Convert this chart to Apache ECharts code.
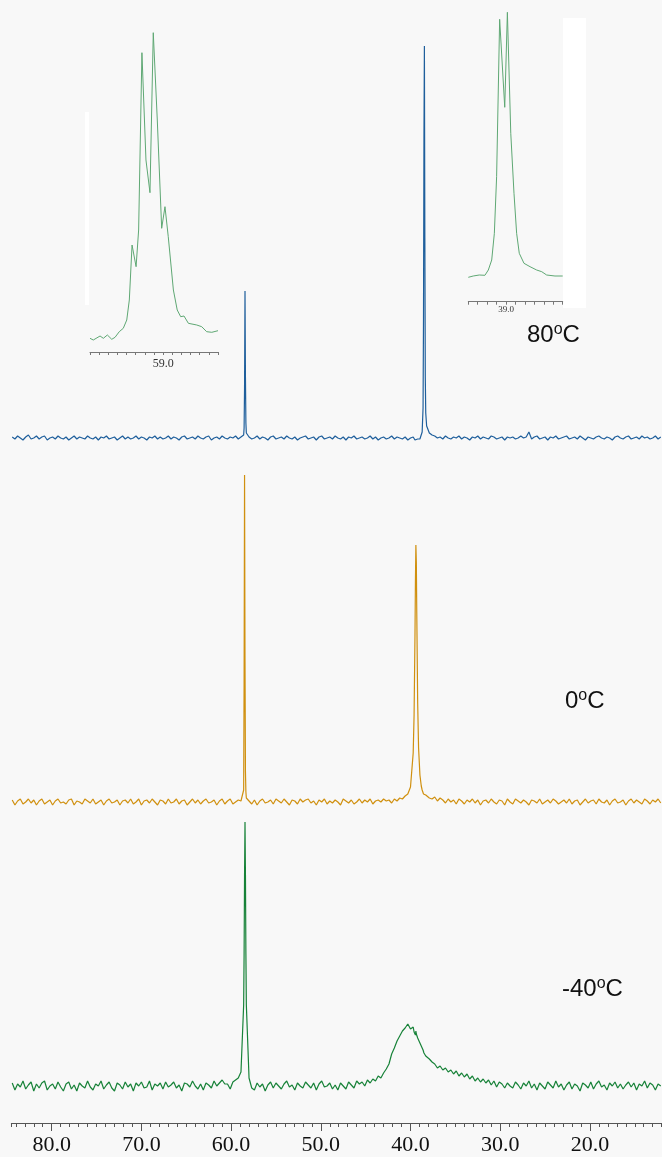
<!DOCTYPE html>
<html>
<head>
<meta charset="utf-8">
<script src="https://cdn.jsdelivr.net/npm/echarts@6/dist/echarts.min.js"></script>
<style>
html,body{margin:0;padding:0;background:#f8f8f8;}
#chart{width:662px;height:1157px;}
</style>
</head>
<body>
<div id="chart"></div>
<script>
// chemical shift grid (ppm), shared by the three traces
const ppm = [
84.4,84.1,83.8,83.5,83.2,82.9,82.6,82.3,82.0,81.7,
81.4,81.1,80.8,80.5,80.2,79.9,79.6,79.3,79.0,78.7,
78.4,78.1,77.8,77.5,77.2,76.9,76.6,76.3,76.0,75.7,
75.4,75.1,74.8,74.5,74.2,73.9,73.6,73.3,73.0,72.7,
72.4,72.1,71.8,71.5,71.2,70.9,70.6,70.3,70.0,69.7,
69.4,69.1,68.8,68.5,68.2,67.9,67.6,67.3,67.0,66.7,
66.4,66.1,65.8,65.5,65.2,64.9,64.6,64.3,64.0,63.7,
63.4,63.1,62.8,62.5,62.2,61.9,61.6,61.3,61.0,60.7,
60.4,60.1,59.8,59.5,59.2,58.9,
58.6,58.55,58.5,58.45,58.4,58.35,58.3,58.0,57.7,
57.4,57.1,56.8,56.5,56.2,55.9,55.6,55.3,55.0,54.7,
54.4,54.1,53.8,53.5,53.2,52.9,52.6,52.3,52.0,51.7,
51.4,51.1,50.8,50.5,50.2,49.9,49.6,49.3,49.0,48.7,
48.4,48.1,47.8,47.5,47.2,46.9,46.6,46.3,46.0,45.7,
45.4,45.1,44.8,44.5,44.2,43.9,43.6,43.3,43.0,42.7,
42.4,42.1,41.8,41.5,41.2,40.9,40.6,40.3,40.0,39.7,
39.6,39.5,39.45,39.4,39.35,39.3,39.2,39.1,38.95,38.8,
38.7,38.6,38.55,38.5,38.45,38.4,38.35,38.3,38.2,37.9,
37.6,37.3,37.0,36.7,36.4,36.1,35.8,35.5,35.2,34.9,
34.6,34.3,34.0,33.7,33.4,33.1,32.8,32.5,32.2,31.9,
31.6,31.3,31.0,30.7,30.4,30.1,29.8,29.5,29.2,28.9,
28.6,28.3,28.0,27.7,27.4,27.1,26.8,26.5,26.2,25.9,
25.6,25.3,25.0,24.7,24.4,24.1,23.8,23.5,23.2,22.9,
22.6,22.3,22.0,21.7,21.4,21.1,20.8,20.5,20.2,19.9,
19.6,19.3,19.0,18.7,18.4,18.1,17.8,17.5,17.2,16.9,
16.6,16.3,16.0,15.7,15.4,15.1,14.8,14.5,14.2,13.9,
13.6,13.3,13.0,12.7,12.4,12.1
];

// 80 oC trace intensities
const blue80 = [
1,-1,2,0,-2,1,3,-1,0,2,
-1,1,2,-2,0,1,-1,2,0,-1,
1,-2,0,2,-1,1,0,-1,2,0,
-1,1,-2,1,0,2,-1,0,1,-2,
0,2,-1,1,-1,0,2,-1,1,0,
-2,1,0,2,-1,1,-1,0,2,-1,
1,0,-2,1,2,-1,0,1,-1,2,
0,-1,1,2,-2,0,1,-1,2,0,
-1,1,0,2,-1,1,
3,10,50,147,60,15,5,1,-1,
0,2,-1,1,0,-2,1,2,-1,0,
1,-1,2,0,-1,1,-2,0,1,2,
-1,0,1,-2,1,2,-1,0,1,-1,
2,0,-1,1,-2,1,0,2,-1,0,
1,-1,0,2,-1,1,-2,0,1,-1,
0,2,-1,1,0,-1,1,-2,0,1,
-1,-2,0,-1,-2,0,-1,-3,-1,0,
6,30,120,300,392,200,60,25,12,5,
3,2,0,1,-1,2,0,-1,1,0,
2,-1,1,0,-2,1,0,2,-1,1,
0,-1,2,1,-1,0,1,-2,1,0,
1,-1,0,2,0,1,6,-1,1,2,
-1,0,1,-2,1,0,2,-1,0,1,
2,-1,0,1,-1,2,0,-2,1,0,
-1,1,2,0,-1,1,0,-2,1,2,
0,-1,1,2,-1,0,1,-1,2,0,
1,-1,0,2,-1,1
];

// 0 oC trace intensities
const orange0 = [
2,-3,1,3,-2,0,3,-1,2,-3,
1,3,-2,0,2,-3,1,3,-1,0,
-2,2,3,-3,1,0,-2,3,1,-1,
3,-2,0,2,-3,1,3,-1,0,2,
-3,1,2,-1,3,-2,0,3,-3,1,
2,-1,3,0,-3,2,1,-2,3,-1,
0,3,-2,1,2,-3,0,3,-1,2,
-2,1,3,-1,0,2,-3,1,3,-2,
1,3,-2,0,2,1,
12,120,327,140,30,10,4,1,-2,
2,-3,1,3,-1,0,2,-2,3,1,
-1,3,0,-3,2,1,-2,3,0,2,
3,-1,1,-3,2,0,3,-2,1,-1,
2,0,-3,3,1,-1,2,-2,0,3,
-1,2,0,3,-2,1,2,0,3,1,
2,-1,3,1,4,3,6,8,15,49,
87,167,221,257,240,189,99,54,27,16,
12,10,8,9,7,8,6,7,5,4,
3,5,1,4,2,-1,3,0,2,-2,
3,1,-2,2,0,3,-1,2,-3,1,
2,-1,3,0,-2,2,1,-3,3,0,
-2,3,1,-1,2,0,-3,2,1,-1,
3,-2,0,2,-1,3,1,-2,0,2,
-1,3,-2,1,2,-3,0,3,-1,1,
2,-2,3,0,-1,2,-3,1,3,-1,
0,2,-3,1,3,-1,2,0,-2,3,
1,-2,2,0,3,-1
];

// -40 oC trace intensities
const green40 = [
3,-4,2,-1,5,-3,1,4,-5,2,
-2,3,5,-4,0,2,-3,4,-1,-5,
2,4,-3,1,-5,3,0,-2,5,-1,
-4,2,0,5,-3,1,4,-2,-5,3,
1,-3,4,-1,2,-5,3,0,4,-2,
-1,5,-4,2,0,3,-3,4,-1,1,
4,-2,1,-5,3,2,-1,5,0,-3,
2,-4,3,1,-2,5,0,3,6,2,
2,-3,4,6,8,14,
81,132,211,264,211,132,81,8,-2,
-4,3,-1,2,-5,1,4,-2,3,0,
-3,2,5,-1,1,-4,3,0,-2,4,
1,-2,3,-4,2,5,-1,0,3,-3,
1,-4,3,0,-3,4,1,-2,5,2,
4,0,6,3,7,5,10,8,13,17,
22,32,38,45,50,55,58,62,57,59,
54,56,51,55,52,53,48,46,43,40,
39,36,38,33,35,32,34,30,31,27,
24,22,18,20,16,18,14,16,12,15,
10,13,9,12,7,10,5,8,4,7,
3,6,1,5,-1,4,2,-2,3,0,
-2,4,1,-3,3,0,5,-2,2,-4,
3,0,-3,4,1,-2,5,-1,2,-4,
1,4,-3,2,0,-5,3,1,-2,4,
-3,2,5,-1,1,-4,3,0,4,-2,
2,-3,1,4,-1,3,-4,2,0,5,
-2,3,1,-4,2,0
];

// expanded inset around 59.0 ppm
const inset59Ppm = [59.40,59.382,59.345,59.327,59.305,59.281,59.263,59.240,59.218,59.199,59.185,59.170,59.148,59.134,59.116,59.094,59.072,59.054,59.032,59.008,58.990,58.972,58.944,58.923,58.904,58.886,58.862,58.816,58.789,58.762,58.734,58.70];
const inset59Val = [13.7,12,16,13.7,17,12.7,14.7,20.3,23.7,32,52,107,85.3,122,299.3,192,159.3,319.3,232,123.7,145.3,115.3,62,42,35.3,36,28.7,27,25.3,20.3,19.7,21.3];

// expanded inset around 39.0 ppm
const inset39Ppm = [39.200,39.174,39.142,39.112,39.094,39.076,39.062,39.050,39.034,39.007,38.993,38.975,38.958,38.944,38.930,38.905,38.873,38.838,38.811,38.785,38.741,38.700];
const inset39Val = [24.4,25.7,26.7,26.4,31.7,41.7,68.4,125,282.4,194.4,289.4,168.4,108.4,68.4,48.4,38.4,35,31.7,30,26.7,25.7,25.7];

const tempLabels = ['80', '0', '-40'];
const majorTickLabels = [80, 70, 60, 50, 40, 30, 20];

if (blue80.length !== ppm.length || orange0.length !== ppm.length || green40.length !== ppm.length) {
  throw new Error('length mismatch ' + ppm.length + ' ' + blue80.length + ' ' + orange0.length + ' ' + green40.length);
}

const pair = (xs, ys) => xs.map((x, i) => [x, ys[i]]);

const PX_PER_PPM = 8.97;
const X80 = 51.7;
const mainLeft = X80 - (84.5 - 80) * PX_PER_PPM;
const mainWidth = (84.5 - 10) * PX_PER_PPM;
const majLeft = X80 - (90 - 80) * PX_PER_PPM;
const majWidth = 80 * PX_PER_PPM;

const hiddenX = (gi) => ({ type: 'value', gridIndex: gi, min: 10, max: 84.5, inverse: true, show: false });
const hiddenY = (gi, mn, mx) => ({ type: 'value', gridIndex: gi, min: mn, max: mx, show: false });

const chart = echarts.init(document.getElementById('chart'), null, { renderer: 'canvas' });

const lineSeries = (xi, data, color, width) => ({
  type: 'line', xAxisIndex: xi, yAxisIndex: xi, data: data, showSymbol: false, symbol: 'none',
  lineStyle: { color: color, width: width }, itemStyle: { color: color }, animation: false, silent: true
});

const tempText = (t, x, y) => ({
  type: 'text', left: x, top: y, silent: true, z: 10,
  style: {
    text: '{n|' + t + '}{s|o}{n|C}',
    rich: {
      n: { fontSize: 24, fontFamily: 'Liberation Sans', fill: '#111', lineHeight: 26 },
      s: { fontSize: 16, fontFamily: 'Liberation Sans', fill: '#111', verticalAlign: 'top', lineHeight: 16 }
    }
  }
});

const g = (left, width, top, height) => ({ left: left, width: width, top: top, height: height, containLabel: false, outerBoundsMode: 'none' });

const option = {
  backgroundColor: '#f8f8f8',
  animation: false,
  grid: [
    g(mainLeft, mainWidth, 38, 420),
    g(mainLeft, mainWidth, 462, 360),
    g(mainLeft, mainWidth, 806, 317),
    g(majLeft, majWidth, 806, 317),
    g(90, 128, 20, 332),
    g(468.3, 94.4, 0, 301.7)
  ],
  xAxis: [
    hiddenX(0),
    hiddenX(1),
    { type: 'value', gridIndex: 2, min: 10, max: 84.5, inverse: true, interval: 1,
      axisLine: { show: true, onZero: false, lineStyle: { color: '#555', width: 1 } },
      axisTick: { show: true, length: 4, lineStyle: { color: '#555', width: 1 } },
      axisLabel: { show: false }, splitLine: { show: false } },
    { type: 'value', gridIndex: 3, min: 10, max: 90, inverse: true, interval: 10,
      axisLine: { show: false, onZero: false },
      axisTick: { show: true, length: 8, lineStyle: { color: '#555', width: 1 } },
      axisLabel: { show: true, margin: 11, fontSize: 22, fontFamily: 'Liberation Serif', color: '#111',
        formatter: (v) => majorTickLabels.indexOf(Math.round(v)) >= 0 ? v.toFixed(1) : '' },
      splitLine: { show: false } },
    { type: 'value', gridIndex: 4, min: 58.7, max: 59.4, inverse: true, interval: 0.05,
      axisLine: { show: true, onZero: false, lineStyle: { color: '#777', width: 1 } },
      axisTick: { show: true, length: 3, lineStyle: { color: '#777', width: 1 } },
      axisLabel: { show: true, margin: 6, fontSize: 12, fontFamily: 'Liberation Serif', color: '#333',
        formatter: (v) => Math.abs(v - 59) < 0.001 ? '59.0' : '' },
      splitLine: { show: false } },
    { type: 'value', gridIndex: 5, min: 38.7, max: 39.2, inverse: true, interval: 0.05,
      axisLine: { show: true, onZero: false, lineStyle: { color: '#777', width: 1 } },
      axisTick: { show: true, length: 3, lineStyle: { color: '#777', width: 1 } },
      axisLabel: { show: true, margin: 3, fontSize: 9, fontFamily: 'Liberation Serif', color: '#333',
        formatter: (v) => Math.abs(v - 39) < 0.001 ? '39.0' : '' },
      splitLine: { show: false } }
  ],
  yAxis: [
    hiddenY(0, -20, 400),
    hiddenY(1, -20, 340),
    hiddenY(2, -37, 280),
    hiddenY(3, 0, 1),
    hiddenY(4, 0, 332),
    hiddenY(5, 0, 301.7)
  ],
  series: [
    lineSeries(0, pair(ppm, blue80), '#1f5f9c', 1.2),
    lineSeries(1, pair(ppm, orange0), '#d0900f', 1.2),
    lineSeries(2, pair(ppm, green40), '#178238', 1.2),
    lineSeries(4, pair(inset59Ppm, inset59Val), '#5fa874', 1),
    lineSeries(5, pair(inset39Ppm, inset39Val), '#5fa874', 1)
  ],
  graphic: [
    { type: 'rect', shape: { x: 85, y: 112, width: 4, height: 193 }, style: { fill: '#ffffff' }, z: -1, silent: true },
    { type: 'rect', shape: { x: 563, y: 18, width: 23, height: 290 }, style: { fill: '#ffffff' }, z: -1, silent: true },
    tempText(tempLabels[0], 527, 322),
    tempText(tempLabels[1], 565, 688),
    tempText(tempLabels[2], 562, 976)
  ]
};

chart.setOption(option);
</script>
</body>
</html>
